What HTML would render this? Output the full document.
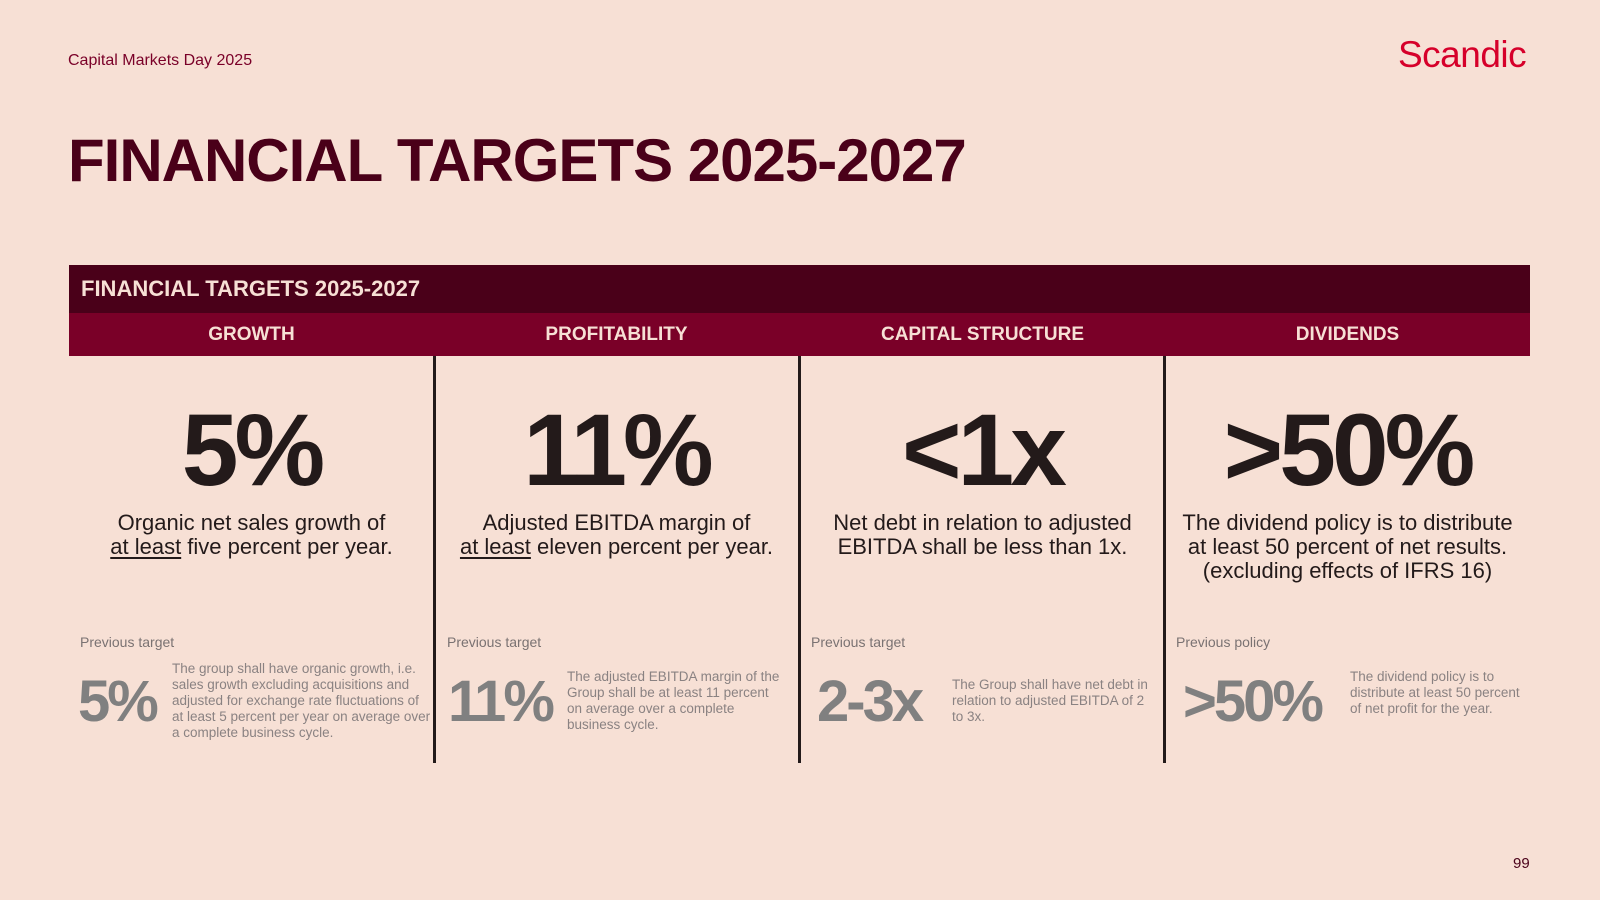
<!DOCTYPE html>
<html><head><meta charset="utf-8"><style>
*{margin:0;padding:0;box-sizing:border-box}
body{width:1600px;height:900px;background:#f7e0d5;font-family:"Liberation Sans Narrow","Liberation Sans",sans-serif;position:relative;overflow:hidden;color:#231a1a}
.abs{position:absolute}
.col{position:absolute;top:356px;width:365px;height:407px;text-align:center}
.big{position:absolute;left:0;right:0;top:395px;font-family:"Liberation Sans",sans-serif;font-weight:bold;font-size:102px;letter-spacing:-4px;line-height:110px;color:#231a1a}
.desc{position:absolute;left:0;right:0;top:511px;font-size:22px;line-height:24px}
.desc u{text-underline-offset:3px}
.prevl{position:absolute;top:634px;font-size:14px;color:#7a7272}
.pbig{position:absolute;font-family:"Liberation Sans",sans-serif;font-weight:bold;font-size:58px;letter-spacing:-3px;color:#808080;line-height:60px}
.ptxt{position:absolute;font-size:13.5px;line-height:16px;color:#8a8282;text-align:left}
.div{position:absolute;top:356px;width:3px;height:407px;background:#231a1a}
.hd{position:absolute;top:313px;height:43px;width:365px;text-align:center;color:#f7e0d5;font-weight:bold;font-size:19px;line-height:43px}
</style></head><body>
<div class="abs" style="left:68px;top:52px;font-size:16px;color:#7a0028">Capital Markets Day 2025</div>
<div class="abs" style="left:1398px;top:34px;font-family:'Liberation Sans',sans-serif;font-size:37px;color:#d6002a;letter-spacing:-0.5px">Scandic</div>
<div class="abs" style="left:68px;top:126px;font-family:'Liberation Sans',sans-serif;font-weight:bold;font-size:60px;letter-spacing:-1px;color:#4a0019">FINANCIAL TARGETS 2025-2027</div>
<div class="abs" style="left:69px;top:265px;width:1461px;height:48px;background:#4a0019;color:#f7e0d5;font-weight:bold;font-size:22px;line-height:48px;padding-left:12px">FINANCIAL TARGETS 2025-2027</div>
<div class="abs" style="left:69px;top:313px;width:1461px;height:43px;background:#7a0028"></div>
<div class="hd" style="left:69px">GROWTH</div>
<div class="hd" style="left:434px">PROFITABILITY</div>
<div class="hd" style="left:800px">CAPITAL STRUCTURE</div>
<div class="hd" style="left:1165px">DIVIDENDS</div>
<div class="div" style="left:433px"></div>
<div class="div" style="left:798px"></div>
<div class="div" style="left:1163px"></div>

<div class="abs" style="left:69px;top:0;width:365px;height:900px;text-align:center">
<div class="big">5%</div>
<div class="desc">Organic net sales growth of<br><u>at least</u> five percent per year.</div>
<div class="prevl" style="left:11px">Previous target</div>
<div class="pbig" style="left:9px;top:672px">5%</div>
<div class="ptxt" style="left:103px;top:661px;width:260px">The group shall have organic growth, i.e. sales growth excluding acquisitions and adjusted for exchange rate fluctuations of at least 5 percent per year on average over a complete business cycle.</div>
</div>

<div class="abs" style="left:434px;top:0;width:365px;height:900px;text-align:center">
<div class="big">11%</div>
<div class="desc">Adjusted EBITDA margin of<br><u>at least</u> eleven percent per year.</div>
<div class="prevl" style="left:13px">Previous target</div>
<div class="pbig" style="left:14px;top:672px">11%</div>
<div class="ptxt" style="left:133px;top:669px;width:215px">The adjusted EBITDA margin of the Group shall be at least 11 percent on average over a complete business cycle.</div>
</div>

<div class="abs" style="left:800px;top:0;width:365px;height:900px;text-align:center">
<div class="big">&lt;1x</div>
<div class="desc">Net debt in relation to adjusted<br>EBITDA shall be less than 1x.</div>
<div class="prevl" style="left:11px">Previous target</div>
<div class="pbig" style="left:17px;top:672px">2-3x</div>
<div class="ptxt" style="left:152px;top:677px;width:200px">The Group shall have net debt in relation to adjusted EBITDA of 2 to 3x.</div>
</div>

<div class="abs" style="left:1165px;top:0;width:365px;height:900px;text-align:center">
<div class="big">&gt;50%</div>
<div class="desc">The dividend policy is to distribute<br>at least 50 percent of net results.<br>(excluding effects of IFRS 16)</div>
<div class="prevl" style="left:11px">Previous policy</div>
<div class="pbig" style="left:18px;top:672px">&gt;50%</div>
<div class="ptxt" style="left:185px;top:669px;width:175px">The dividend policy is to distribute at least 50 percent of net profit for the year.</div>
</div>

<div class="abs" style="left:1513px;top:855px;font-size:15px;color:#4a0019">99</div>
</body></html>
